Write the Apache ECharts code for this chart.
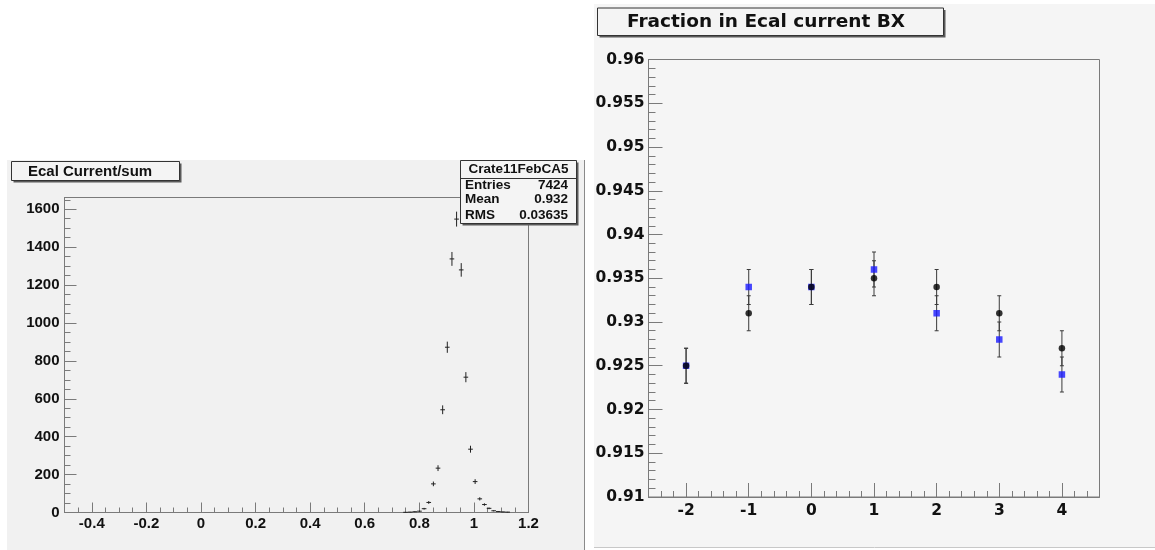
<!DOCTYPE html>
<html lang="en">
<head>
<meta charset="UTF-8">
<title>Ecal current fraction</title>
<script src="https://cdn.jsdelivr.net/npm/echarts@6/dist/echarts.min.js"></script>
<style>
    html, body { margin: 0; padding: 0; background: #fff; }
    #charts { width: 1155px; height: 550px; }
</style>
</head>
<body>
<div id="charts"></div>
<script>
    // left pad: histogram, 100 bins from -0.5 to 1.2 (width 0.017), only filled bins listed
    var binWidth = 0.017;
    var histX = [0.7495, 0.7665, 0.7835, 0.8005, 0.8175, 0.8345, 0.8515, 0.8685, 0.8855, 0.9025,
                 0.9195, 0.9365, 0.9535, 0.9705, 0.9875, 1.0045, 1.0215, 1.0385, 1.0555, 1.0725,
                 1.0895, 1.1065, 1.1235];
    var histY = [1, 2, 4, 7, 20, 53, 151, 234, 542, 872,
                 1338, 1548, 1280, 714, 334, 163, 72, 42, 22, 9,
                 5, 3, 2];
    var histTicksX = [-0.4, -0.2, 0, 0.2, 0.4, 0.6, 0.8, 1, 1.2];
    var histTicksY = [0, 200, 400, 600, 800, 1000, 1200, 1400, 1600];
    var statLabels = ['Entries', 'Mean', 'RMS'];
    var statValues = ['7424', '0.932', '0.03635'];

    // right pad: fraction in current BX
    var bx = [-2, -1, 0, 1, 2, 3, 4];
    var fracBlack = [0.925, 0.931, 0.934, 0.935, 0.934, 0.931, 0.927];
    var errBlack = [0.002, 0.002, 0.002, 0.002, 0.002, 0.002, 0.002];
    var fracBlue = [0.925, 0.934, 0.934, 0.936, 0.931, 0.928, 0.924];
    var errBlue = [0.002, 0.002, 0.002, 0.002, 0.002, 0.002, 0.002];
    var bxTicksY = [0.91, 0.915, 0.92, 0.925, 0.93, 0.935, 0.94, 0.945, 0.95, 0.955, 0.96];

    var axisGray = '#7a7a7a';
    var leftFont = 'Liberation Sans, Arial, sans-serif';
    var rightFont = 'DejaVu Sans, sans-serif';

    function histErrors(params, api) {
        var x = api.value(0), y = api.value(1), e = Math.sqrt(y);
        var top = api.coord([x, y + e]);
        var bot = api.coord([x, Math.max(y - e, 0)]);
        var l = api.coord([x - binWidth / 2, y]);
        var r = api.coord([x + binWidth / 2, y]);
        var st = {stroke: '#222', lineWidth: 1};
        return {
            type: 'group',
            children: [
                {type: 'line', shape: {x1: top[0], y1: top[1], x2: bot[0], y2: bot[1]}, style: st},
                {type: 'line', shape: {x1: l[0], y1: l[1], x2: r[0], y2: r[1]}, style: st}
            ]
        };
    }

    function bxErrors(params, api) {
        var x = api.value(0), y = api.value(1), e = api.value(2);
        var top = api.coord([x, y + e]);
        var bot = api.coord([x, y - e]);
        var st = {stroke: '#3a3a3a', lineWidth: 1};
        return {
            type: 'group',
            children: [
                {type: 'line', shape: {x1: top[0], y1: top[1], x2: bot[0], y2: bot[1]}, style: st},
                {type: 'line', shape: {x1: top[0] - 2, y1: top[1], x2: top[0] + 2, y2: top[1]}, style: st},
                {type: 'line', shape: {x1: bot[0] - 2, y1: bot[1], x2: bot[0] + 2, y2: bot[1]}, style: st}
            ]
        };
    }

    function zipData(xs, ys, es) {
        return xs.map(function (x, i) {
            return es ? [x, ys[i], es[i]] : [x, ys[i]];
        });
    }

    // a shadowed box like the ROOT panes
    function pave(x, y, w, h) {
        return [
            {type: 'rect', z: 100, shape: {x: x + 2, y: y + 2, width: w, height: h}, style: {fill: '#5a5a5a'}},
            {type: 'rect', z: 101, shape: {x: x, y: y, width: w, height: h}, style: {fill: '#f4f4f4', stroke: '#333', lineWidth: 1}}
        ];
    }

    function label(text, x, y, font, align) {
        return {
            type: 'text', z: 102,
            style: {text: text, x: x, y: y, font: font, fill: '#111', textAlign: align || 'left', textVerticalAlign: 'middle'}
        };
    }

    var graphics = [
        {type: 'rect', z: -100, shape: {x: 7, y: 160, width: 577, height: 390}, style: {fill: '#f1f1f1'}},
        {type: 'line', z: -99, shape: {x1: 584.5, y1: 160, x2: 584.5, y2: 550}, style: {stroke: '#8a8a8a', lineWidth: 1}},
        {type: 'rect', z: -100, shape: {x: 594, y: 4, width: 561, height: 543}, style: {fill: '#f5f5f5'}},
        {type: 'line', z: -99, shape: {x1: 594, y1: 547.5, x2: 1155, y2: 547.5}, style: {stroke: '#c8c8c8', lineWidth: 1}}
    ];
    graphics = graphics.concat(pave(11.5, 161.5, 168, 19));
    graphics.push(label('Ecal Current/sum', 28, 171.5, 'bold 15px ' + leftFont));
    graphics = graphics.concat(pave(460.5, 160.5, 116, 63));
    graphics.push({type: 'line', z: 102, shape: {x1: 460.5, y1: 178.5, x2: 576.5, y2: 178.5}, style: {stroke: '#333', lineWidth: 1}});
    graphics.push(label('Crate11FebCA5', 518.5, 169.5, 'bold 13.5px ' + leftFont, 'center'));
    var rowY = [185, 199.5, 215];
    for (var s = 0; s < statLabels.length; s++) {
        graphics.push(label(statLabels[s], 465, rowY[s], 'bold 13.5px ' + leftFont));
        graphics.push(label(statValues[s], 568, rowY[s], 'bold 13.5px ' + leftFont, 'right'));
    }
    graphics = graphics.concat(pave(597.5, 8, 346, 27.5));
    graphics.push(label('Fraction in Ecal current BX', 627, 22, 'bold 18.5px ' + rightFont));

    function majorAxis(grid, pos, min, max, ticks, len, font, size, margin) {
        return {
            type: 'value', gridIndex: grid, position: pos, min: min, max: max,
            axisLine: {show: true, onZero: false, lineStyle: {color: axisGray, width: 1}},
            axisTick: {show: true, inside: true, length: len, customValues: ticks, lineStyle: {color: axisGray}},
            axisLabel: {show: true, customValues: ticks, margin: margin, color: '#111',
                fontFamily: font, fontWeight: 'bold', fontSize: size,
                formatter: function (v) { return String(v); }},
            splitLine: {show: false}
        };
    }

    function minorAxis(grid, pos, min, max, step, len) {
        return {
            type: 'value', gridIndex: grid, position: pos, min: min, max: max, interval: step,
            axisLine: {show: false, onZero: false},
            axisTick: {show: true, inside: true, length: len, lineStyle: {color: axisGray}},
            axisLabel: {show: false},
            splitLine: {show: false}
        };
    }

    var option = {
        animation: false,
        backgroundColor: '#ffffff',
        graphic: graphics,
        grid: [
            {left: 64.5, top: 197.5, width: 464, height: 315, show: true, borderColor: axisGray, borderWidth: 1,
                backgroundColor: 'transparent', outerBoundsMode: 'none', containLabel: false},
            {left: 648.5, top: 59.5, width: 451, height: 437.5, show: true, borderColor: axisGray, borderWidth: 1,
                backgroundColor: 'transparent', outerBoundsMode: 'none', containLabel: false}
        ],
        xAxis: [
            majorAxis(0, 'bottom', -0.5, 1.2, histTicksX, 10, leftFont, 15, 4),
            minorAxis(0, 'bottom', -0.5, 1.2, 0.05, 5),
            majorAxis(1, 'bottom', -2.6, 4.6, bx, 14, rightFont, 15.5, 6),
            minorAxis(1, 'bottom', -2.6, 4.6, 0.2, 6)
        ],
        yAxis: [
            majorAxis(0, 'left', 0, 1662, histTicksY, 12, leftFont, 15, 5),
            minorAxis(0, 'left', 0, 1662, 50, 6),
            majorAxis(1, 'left', 0.91, 0.96, bxTicksY, 14, rightFont, 15.5, 4),
            minorAxis(1, 'left', 0.91, 0.96, 0.001, 7)
        ],
        series: [
            {
                type: 'custom', xAxisIndex: 0, yAxisIndex: 0,
                renderItem: histErrors,
                encode: {x: 0, y: 1},
                data: zipData(histX, histY)
            },
            {
                type: 'custom', xAxisIndex: 2, yAxisIndex: 2, z: 2,
                renderItem: bxErrors,
                encode: {x: 0, y: 1},
                data: zipData(bx, fracBlue, errBlue)
            },
            {
                type: 'custom', xAxisIndex: 2, yAxisIndex: 2, z: 2,
                renderItem: bxErrors,
                encode: {x: 0, y: 1},
                data: zipData(bx, fracBlack, errBlack)
            },
            {
                type: 'scatter', xAxisIndex: 2, yAxisIndex: 2, z: 3,
                symbol: 'rect', symbolSize: 6.5,
                itemStyle: {color: '#1a1aff'},
                data: zipData(bx, fracBlue)
            },
            {
                type: 'scatter', xAxisIndex: 2, yAxisIndex: 2, z: 4,
                symbol: 'circle', symbolSize: 6.5,
                itemStyle: {color: '#000'},
                data: zipData(bx, fracBlack)
            }
        ]
    };

    var myChart = echarts.init(document.getElementById('charts'));
    myChart.setOption(option);
</script>
</body>
</html>
